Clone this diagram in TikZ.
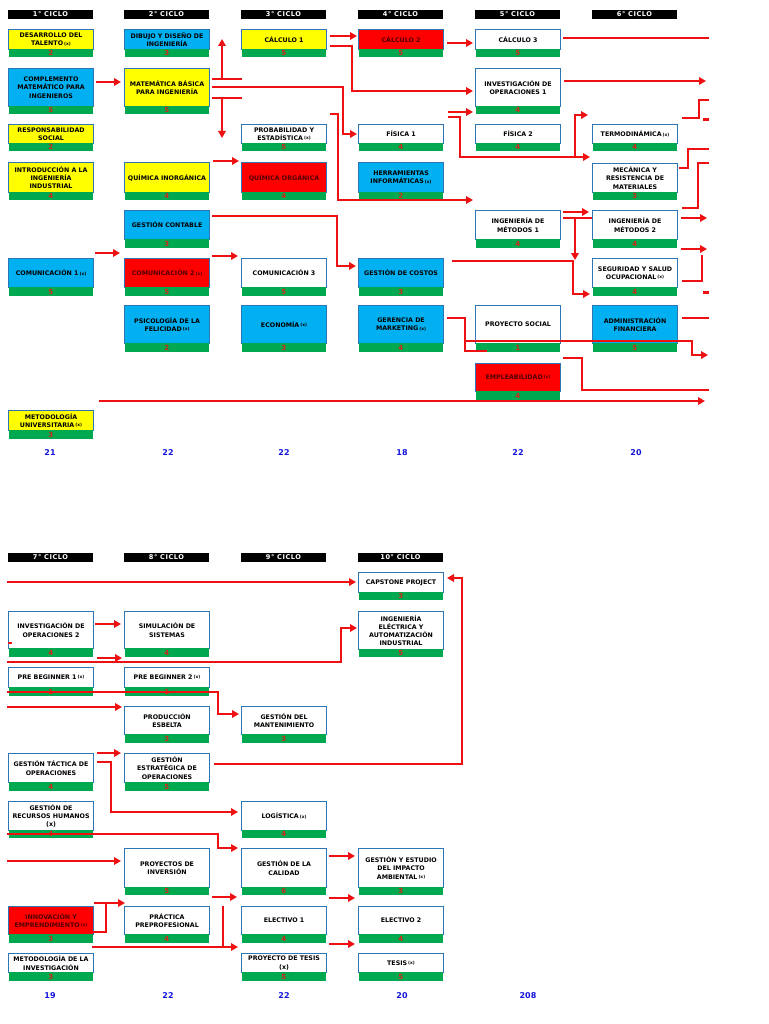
\documentclass[tikz,border=0pt]{standalone}
\usepackage{fontspec}
\setmainfont{DejaVu Sans}
\usetikzlibrary{arrows.meta}
\definecolor{cyel}{HTML}{FFFF00}
\definecolor{cblu}{HTML}{00B0F0}
\definecolor{cred}{HTML}{FF0000}
\definecolor{bord}{HTML}{2E75B6}
\definecolor{cgrn}{HTML}{00A850}
\definecolor{credit}{HTML}{D02818}
\definecolor{lnred}{HTML}{EE1111}
\definecolor{totblue}{HTML}{1414DC}
\newcommand\xm{\,{\fontsize{4.3}{5}\selectfont\raisebox{.9pt}{(x)}}}
% name, x, ytop, ymid, ybot, style, text, credits
\newcommand\mycourse[8]{%
  \node[cbox,#6,minimum height={(#4-#3)*1pt},anchor=north west] (#1) at (#2,#3) {#7};
  \node[cbar,minimum height={(#5-#4)*1pt},anchor=north west] (#1c) at (#2+0.5,#4) {#8};
}
\begin{document}
\begin{tikzpicture}[x=1pt,y=-1pt,
  cbox/.style={draw=bord,line width=1.1pt,minimum width=85pt,inner sep=1pt,align=center,
    font=\fontsize{6.3}{8.2}\selectfont\bfseries,text=black},
  yb/.style={fill=cyel}, bb/.style={fill=cblu}, wb/.style={fill=white},
  rb/.style={fill=cred,text={rgb,255:red,80;green,0;blue,0}},
  cbar/.style={fill=cgrn,minimum width=84pt,inner sep=0pt,font=\fontsize{7}{7}\selectfont\bfseries,text=credit},
  hdr/.style={fill=black,text=white,minimum width=85pt,minimum height=9pt,inner sep=0pt,font=\fontsize{6.6}{7}\selectfont\bfseries\addfontfeature{LetterSpace=8}},
  tot/.style={text=totblue,font=\fontsize{8}{8}\selectfont\bfseries,inner sep=0pt},
  conn/.style={draw=lnred,line width=2.3pt},
  arr/.style={conn,-{Triangle[length=7pt,width=7.5pt]}}]
\useasboundingbox (0,0) rectangle (768,1024);
\fill[white] (0,0) rectangle (768,1024);

% ---------- headers ----------
\node[hdr] (h1) at (50.5,14.5) {1° CICLO};
\node[hdr] (h2) at (166.5,14.5) {2° CICLO};
\node[hdr] (h3) at (283.5,14.5) {3° CICLO};
\node[hdr] (h4) at (400.5,14.5) {4° CICLO};
\node[hdr] (h5) at (517.5,14.5) {5° CICLO};
\node[hdr] (h6) at (634.5,14.5) {6° CICLO};
\node[hdr] (h7) at (50.5,557.5) {7° CICLO};
\node[hdr] (h8) at (166.5,557.5) {8° CICLO};
\node[hdr] (h9) at (283.5,557.5) {9° CICLO};
\node[hdr] (h10) at (400.5,557.5) {10° CICLO};

% ---------- column 1 ----------
\mycourse{dt}{8}{29}{49}{57}{yb}{DESARROLLO DEL\\TALENTO\xm}{2}
\mycourse{cm}{8}{68}{106}{114}{bb}{COMPLEMENTO\\MATEMÁTICO PARA\\INGENIEROS}{5}
\mycourse{rs}{8}{124}{143}{151}{yb}{RESPONSABILIDAD\\SOCIAL}{2}
\mycourse{ii}{8}{162}{192}{200}{yb}{INTRODUCCIÓN A LA\\INGENIERÍA\\INDUSTRIAL}{4}
\mycourse{co1}{8}{258}{287}{296}{bb}{COMUNICACIÓN 1\xm}{5}
\mycourse{mu}{8}{410}{430}{439}{yb}{METODOLOGÍA\\UNIVERSITARIA\xm}{3}
% ---------- column 2 ----------
\mycourse{dd}{124}{29}{49}{57}{bb}{DIBUJO Y DISEÑO DE\\INGENIERÍA}{3}
\mycourse{mb}{124}{68}{106}{114}{yb}{MATEMÁTICA BÁSICA\\PARA INGENIERÍA}{5}
\mycourse{qi}{124}{162}{192}{200}{yb}{QUÍMICA INORGÁNICA}{4}
\mycourse{gc}{124}{210}{239}{248}{bb}{GESTIÓN CONTABLE}{3}
\mycourse{co2}{124}{258}{287}{296}{rb}{COMUNICACIÓN 2\xm}{5}
\mycourse{pf}{124}{305}{343}{352}{bb}{PSICOLOGÍA DE LA\\FELICIDAD\xm}{2}
% ---------- column 3 ----------
\mycourse{k1}{241}{29}{49}{57}{yb}{CÁLCULO 1}{5}
\mycourse{pe}{241}{124}{143}{151}{wb}{PROBABILIDAD Y\\ESTADÍSTICA\xm}{5}
\mycourse{qo}{241}{162}{192}{200}{rb}{QUÍMICA ORGÁNICA}{4}
\mycourse{co3}{241}{258}{287}{296}{wb}{COMUNICACIÓN 3}{5}
\mycourse{ec}{241}{305}{343}{352}{bb}{ECONOMÍA\xm}{3}
% ---------- column 4 ----------
\mycourse{k2}{358}{29}{49}{57}{rb}{CÁLCULO 2}{5}
\mycourse{f1}{358}{124}{143}{151}{wb}{FÍSICA 1}{4}
\mycourse{hi}{358}{162}{192}{200}{bb}{HERRAMIENTAS\\INFORMÁTICAS\xm}{2}
\mycourse{gco}{358}{258}{287}{296}{bb}{GESTIÓN DE COSTOS}{3}
\mycourse{gm}{358}{305}{343}{352}{bb}{GERENCIA DE\\MARKETING\xm}{4}
% ---------- column 5 ----------
\mycourse{k3}{475}{29}{49}{57}{wb}{CÁLCULO 3}{5}
\mycourse{io1}{475}{68}{106}{114}{wb}{INVESTIGACIÓN DE\\OPERACIONES 1}{4}
\mycourse{f2}{475}{124}{143}{151}{wb}{FÍSICA 2}{4}
\mycourse{im1}{475}{210}{239}{248}{wb}{INGENIERÍA DE\\MÉTODOS 1}{4}
\mycourse{ps}{475}{305}{343}{352}{wb}{PROYECTO SOCIAL}{1}
\mycourse{em}{475}{363}{391}{400}{rb}{EMPLEABILIDAD\xm}{4}
% ---------- column 6 ----------
\mycourse{td}{592}{124}{143}{151}{wb}{TERMODINÁMICA\xm}{4}
\mycourse{mr}{592}{163}{192}{200}{wb}{MECÁNICA Y\\RESISTENCIA DE\\MATERIALES}{3}
\mycourse{im2}{592}{210}{239}{248}{wb}{INGENIERÍA DE\\MÉTODOS 2}{4}
\mycourse{ss}{592}{258}{287}{296}{wb}{SEGURIDAD Y SALUD\\OCUPACIONAL\xm}{4}
\mycourse{af}{592}{305}{343}{352}{bb}{ADMINISTRACIÓN\\FINANCIERA}{5}

% ---------- 7th ----------
\mycourse{io2}{8}{611}{648}{657}{wb}{INVESTIGACIÓN DE\\OPERACIONES 2}{4}
\mycourse{pb1}{8}{667}{687}{696}{wb}{PRE BEGINNER 1\xm}{1}
\mycourse{gt}{8}{753}{782}{791}{wb}{GESTIÓN TÁCTICA DE\\OPERACIONES}{4}
\mycourse{rh}{8}{801}{830}{838}{wb}{GESTIÓN DE\\RECURSOS HUMANOS\\(x)}{4}
\mycourse{ie}{8}{906}{934}{943}{rb}{INNOVACIÓN Y\\EMPRENDIMIENTO\xm}{3}
\mycourse{mi}{8}{953}{972}{981}{wb}{METODOLOGÍA DE LA\\INVESTIGACIÓN}{3}
% ---------- 8th ----------
\mycourse{sim}{124}{611}{648}{657}{wb}{SIMULACIÓN DE\\SISTEMAS}{4}
\mycourse{pb2}{124}{667}{687}{696}{wb}{PRE BEGINNER 2\xm}{1}
\mycourse{pes}{124}{706}{734}{743}{wb}{PRODUCCIÓN\\ESBELTA}{3}
\mycourse{ge}{124}{753}{782}{791}{wb}{GESTIÓN\\ESTRATÉGICA DE\\OPERACIONES}{5}
\mycourse{pi}{124}{848}{887}{895}{wb}{PROYECTOS DE\\INVERSIÓN}{5}
\mycourse{pp}{124}{906}{934}{943}{wb}{PRÁCTICA\\PREPROFESIONAL}{4}
% ---------- 9th ----------
\mycourse{gmt}{241}{706}{734}{743}{wb}{GESTIÓN DEL\\MANTENIMIENTO}{3}
\mycourse{lg}{241}{801}{830}{838}{wb}{LOGÍSTICA\xm}{4}
\mycourse{gca}{241}{848}{887}{895}{wb}{GESTIÓN DE LA\\CALIDAD}{6}
\mycourse{el1}{241}{906}{934}{943}{wb}{ELECTIVO 1}{4}
\mycourse{pt}{241}{953}{972}{981}{wb}{PROYECTO DE TESIS\\(x)}{5}
% ---------- 10th ----------
\mycourse{cp}{358}{572}{592}{600}{wb}{CAPSTONE PROJECT}{3}
\mycourse{iea}{358}{611}{649}{657}{wb}{INGENIERÍA\\ELÉCTRICA Y\\AUTOMATIZACIÓN\\INDUSTRIAL}{5}
\mycourse{gea}{358}{848}{887}{895}{wb}{GESTIÓN Y ESTUDIO\\DEL IMPACTO\\AMBIENTAL\xm}{3}
\mycourse{el2}{358}{906}{934}{943}{wb}{ELECTIVO 2}{4}
\mycourse{ts}{358}{953}{972}{981}{wb}{TESIS\xm}{5}

% ---------- totals ----------
\node[tot] (t1) at (50,453) {21};
\node[tot] (t2) at (168,453) {22};
\node[tot] (t3) at (284,453) {22};
\node[tot] (t4) at (402,453) {18};
\node[tot] (t5) at (518,453) {22};
\node[tot] (t6) at (636,453) {20};
\node[tot] (t7) at (50,996) {19};
\node[tot] (t8) at (168,996) {22};
\node[tot] (t9) at (284,996) {22};
\node[tot] (t10) at (402,996) {20};
\node[tot] (t11) at (528,996) {208};

% ---------- connectors, upper half ----------
\draw[arr] (96,82) -- (121,82);
\draw[conn] (212,79) -- (242,79);
\draw[arr] (222,79) -- (222,39);
\draw[arr] (212,87) -- (343,87) -- (343,134) -- (357,134);
\draw[conn] (212,98) -- (242,98);
\draw[arr] (222,98) -- (222,138);
\draw[arr] (213,161) -- (239,161);
\draw[arr] (330,36) -- (357,36);
\draw[arr] (330,46) -- (352,46) -- (352,91) -- (473,91);
\draw[arr] (447,43) -- (473,43);
\draw[arr] (330,114) -- (338,114) -- (338,200) -- (473,200);
\draw[arr] (448,112) -- (473,112);
\draw[arr] (448,117) -- (460,117) -- (460,157) -- (590,157);
\draw[arr] (575,157) -- (575,115) -- (588,115);
\draw[arr] (212,216) -- (337,216) -- (337,266) -- (356,266);
\draw[arr] (95,253) -- (120,253);
\draw[arr] (212,256) -- (238,256);
\draw[arr] (563,212) -- (589,212);
\draw[conn] (563,218) -- (592,218);
\draw[arr] (575,218) -- (575,260);
\draw[arr] (452,261) -- (573,261) -- (573,294) -- (590,294);
\draw[conn] (447,318) -- (465,318) -- (465,351) -- (487,351);
\draw[arr] (465,341) -- (692,341) -- (692,355) -- (708,355);
\draw[conn] (563,358) -- (582,358) -- (582,390) -- (709,390);
\draw[arr] (99,401) -- (705,401);
\draw[conn] (563,38) -- (709,38);
\draw[arr] (564,81) -- (706,81);
\draw[conn] (682,118) -- (699,118) -- (699,100) -- (709,100);
\draw[conn] (703,119.5) -- (709,119.5);
\draw[conn] (679,168) -- (688,168) -- (688,149) -- (709,149);
\draw[conn] (682,208) -- (698,208) -- (698,163) -- (709,163);
\draw[arr] (681,218) -- (707,218);
\draw[arr] (681,249) -- (707,249);
\draw[conn] (682,281) -- (702,281) -- (702,255);
\draw[conn] (703,292.5) -- (709,292.5);
\draw[conn] (682,318) -- (709,318);

% ---------- connectors, lower half ----------
\draw[arr] (7,582) -- (356,582);
\draw[arr] (95,624) -- (121,624);
\draw[conn] (8,643) -- (12,643);
\draw[arr] (7,662) -- (341,662) -- (341,628) -- (357,628);
\draw[arr] (97,658) -- (122,658);
\draw[arr] (7,692) -- (218,692) -- (218,714) -- (239,714);
\draw[arr] (7,707) -- (122,707);
\draw[arr] (97,753) -- (121,753);
\draw[arr] (97,762) -- (111,762) -- (111,812) -- (238,812);
\draw[arr] (214,764) -- (462,764) -- (462,578) -- (447,578);
\draw[arr] (7,834) -- (218,834) -- (218,848) -- (238,848);
\draw[arr] (7,861) -- (121,861);
\draw[arr] (93,932) -- (106,932) -- (106,903) -- (125,903);
\draw[conn] (94,903) -- (106,903);
\draw[arr] (92,947) -- (238,947);
\draw[arr] (212,897) -- (237,897);
\draw[conn] (223,906) -- (223,947);
\draw[arr] (329,856) -- (355,856);
\draw[arr] (329,898) -- (355,898);
\draw[arr] (329,944) -- (355,944);
\end{tikzpicture}
\end{document}
